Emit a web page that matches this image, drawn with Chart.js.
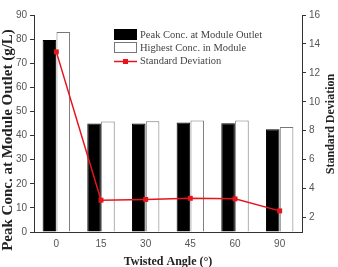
<!DOCTYPE html>
<html>
<head>
<meta charset="utf-8">
<script src="https://cdn.jsdelivr.net/npm/chart.js@4.4.1/dist/chart.umd.min.js"></script>
<style>
  html, body { margin: 0; padding: 0; background: #fff; }
  #wrap { width: 338px; height: 267px; }
</style>
</head>
<body>
<div id="wrap"><canvas id="chart" width="338" height="267"></canvas></div>
<script>
// values
const angles = ['0', '15', '30', '45', '60', '90'];
const peakOutlet = [79.6, 45.0, 45.0, 45.4, 45.1, 42.6];
const highestInModule = [83.0, 45.8, 45.9, 46.2, 46.2, 43.6];
const stdDeviation = [13.45, 3.2, 3.25, 3.33, 3.29, 2.46];
const leftTicks = [0, 10, 20, 30, 40, 50, 60, 70, 80, 90];
const rightTicks = [2, 4, 6, 8, 10, 12, 14, 16];

const RED = '#e8141c';
const tickFont = { family: 'Liberation Sans', size: 10 };

// legend + axis titles drawn by hand so they sit where the reference puts them
const decorPlugin = {
    id: 'decor',
    afterDraw(chart) {
        const c = chart.ctx;
        c.save();
        // legend
        c.fillStyle = '#000';
        c.fillRect(114, 29, 23, 11);
        c.fillStyle = '#fff';
        c.strokeStyle = '#777';
        c.lineWidth = 1;
        c.fillRect(114, 42, 23, 11);
        c.strokeRect(114.5, 42.5, 22, 10);
        c.strokeStyle = RED;
        c.lineWidth = 1.5;
        c.beginPath();
        c.moveTo(114, 61.5);
        c.lineTo(137, 61.5);
        c.stroke();
        c.fillStyle = RED;
        c.fillRect(123, 59, 5, 5);

        c.fillStyle = '#444';
        c.font = '10.5px "Liberation Serif"';
        c.textBaseline = 'middle';
        c.textAlign = 'left';
        c.fillText('Peak Conc. at Module Outlet', 140, 35);
        c.fillText('Highest Conc. in Module', 140, 48);
        c.fillText('Standard Deviation', 140, 61);

        // axis titles
        c.fillStyle = '#222';
        c.textAlign = 'center';
        c.font = 'bold 12px "Liberation Serif"';
        c.fillText('Twisted Angle (\u00b0)', 168, 262);

        c.save();
        c.translate(8, 140);
        c.rotate(-Math.PI / 2);
        c.font = 'bold 15px "Liberation Serif"';
        c.fillText('Peak Conc. at Module Outlet (g/L)', 0, 0);
        c.restore();

        c.save();
        c.translate(331, 124);
        c.rotate(-Math.PI / 2);
        c.font = 'bold 12px "Liberation Serif"';
        c.fillText('Standard Deviation', 0, 0);
        c.restore();

        c.restore();
    }
};

new Chart(document.getElementById('chart'), {
    type: 'bar',
    data: {
        labels: angles,
        datasets: [
            {
                type: 'line',
                label: 'Standard Deviation',
                data: stdDeviation,
                yAxisID: 'y2',
                borderColor: RED,
                backgroundColor: RED,
                borderWidth: 1.5,
                pointStyle: 'rect',
                pointRadius: 3.5,
                pointBorderWidth: 0,
                tension: 0,
                order: 0
            },
            {
                label: 'Peak Conc. at Module Outlet',
                data: peakOutlet,
                backgroundColor: '#000',
                borderColor: '#000',
                borderWidth: 1,
                categoryPercentage: 0.62,
                barPercentage: 0.98,
                order: 1
            },
            {
                label: 'Highest Conc. in Module',
                data: highestInModule,
                backgroundColor: '#fff',
                borderColor: '#777',
                borderWidth: 1,
                categoryPercentage: 0.62,
                barPercentage: 0.98,
                order: 1
            }
        ]
    },
    options: {
        responsive: false,
        animation: false,
        layout: { padding: { top: 15, left: 0, right: 0, bottom: 0 } },
        plugins: {
            legend: { display: false },
            tooltip: { enabled: false }
        },
        scales: {
            x: {
                offset: true,
                grid: { display: false, drawTicks: false },
                border: { display: true, color: '#333', width: 1 },
                ticks: { color: '#555', font: tickFont, padding: 6 },
                afterFit: s => { s.height = 35; }
            },
            y: {
                position: 'left',
                min: 0,
                max: 90,
                afterBuildTicks: s => { s.ticks = leftTicks.map(v => ({ value: v })); },
                grid: { drawOnChartArea: false, tickLength: 4, color: '#333' },
                border: { display: true, color: '#333', width: 1 },
                ticks: { color: '#555', font: tickFont, padding: 3 },
                afterFit: s => { s.width = 34; }
            },
            y2: {
                position: 'right',
                min: 1,
                max: 16,
                afterBuildTicks: s => { s.ticks = rightTicks.map(v => ({ value: v })); },
                grid: { drawOnChartArea: false, tickLength: 4, color: '#333' },
                border: { display: true, color: '#333', width: 1 },
                ticks: { color: '#555', font: tickFont, padding: 3 },
                afterFit: s => { s.width = 36; }
            }
        }
    },
    plugins: [decorPlugin]
});
</script>
</body>
</html>
